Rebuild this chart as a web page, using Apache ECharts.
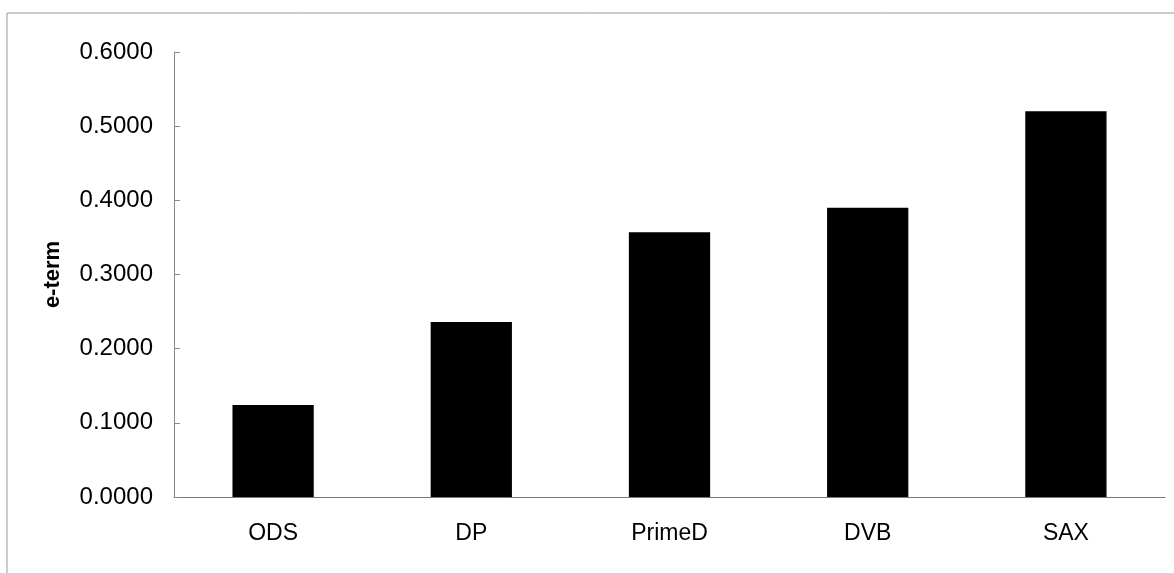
<!DOCTYPE html>
<html>
<head>
<meta charset="utf-8">
<script src="https://cdn.jsdelivr.net/npm/echarts@6/dist/echarts.min.js"></script>
<style>
html,body{margin:0;padding:0;background:#fff;}
#chart{width:1174px;height:573px;}
</style>
</head>
<body>
<div id="chart"></div>
<script>
const categories = ["ODS", "DP", "PrimeD", "DVB", "SAX"];
const eTermValues = [0.124, 0.236, 0.357, 0.390, 0.520];
const yAxisTitle = "e-term";

const chart = echarts.init(document.getElementById('chart'), null, {renderer: 'canvas'});
chart.setOption({
  animation: false,
  backgroundColor: '#fff',
  graphic: [
    {type: 'line', shape: {x1: 7, y1: 13, x2: 1174, y2: 13}, style: {stroke: '#999', lineWidth: 1}},
    {type: 'line', shape: {x1: 7, y1: 13, x2: 7, y2: 573}, style: {stroke: '#999', lineWidth: 1}}
  ],
  grid: {left: 174, right: 9, top: 52, bottom: 76, containLabel: false},
  xAxis: {
    type: 'category',
    data: categories,
    axisLine: {lineStyle: {color: '#777', width: 1}},
    axisTick: {show: false},
    axisLabel: {color: '#000', fontFamily: 'Liberation Sans, Arial, sans-serif', fontSize: 23, margin: 25}
  },
  yAxis: {
    type: 'value',
    min: 0, max: 0.6, interval: 0.1,
    name: yAxisTitle,
    nameLocation: 'middle',
    nameGap: 110,
    nameRotate: 90,
    nameTextStyle: {color: '#000', fontFamily: 'Liberation Sans, Arial, sans-serif', fontSize: 22, fontWeight: 'bold'},
    axisLine: {show: true, lineStyle: {color: '#888', width: 1}},
    axisTick: {show: true, inside: true, length: 6, lineStyle: {color: '#888'}},
    splitLine: {show: false},
    axisLabel: {color: '#000', fontFamily: 'Liberation Sans, Arial, sans-serif', fontSize: 24, margin: 21,
      formatter: v => v.toFixed(4)}
  },
  series: [{
    type: 'bar',
    data: eTermValues,
    barWidth: '41%',
    itemStyle: {color: '#000'}
  }]
});
</script>
</body>
</html>
